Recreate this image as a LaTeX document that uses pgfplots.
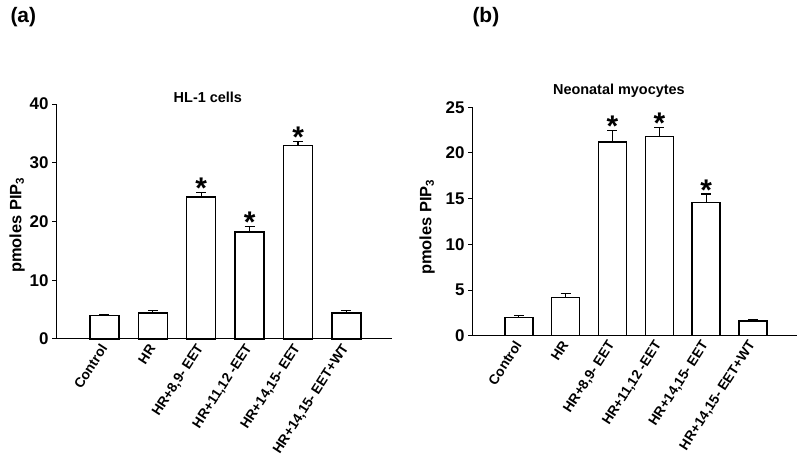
\documentclass[border=0pt]{standalone}
\usepackage{fontspec}
\setmainfont{Liberation Sans}
\usepackage{pgfplots}
\pgfplotsset{compat=1.18}
\begin{document}
\begin{tikzpicture}
\path[use as bounding box] (0bp,0bp) rectangle (800bp,458bp);
\pgfplotsset{
 panel/.style={
  scale only axis,
  axis x line=bottom, axis y line=left,
  axis line style={-, line width=1bp},
  xmin=-1, xmax=5.94, ymin=0,
  xtick={0,1,2,3,4,5},
  xticklabels={Control, HR, {HR+8,9- EET}, {HR+11,12 -EET}, {HR+14,15- EET}, {HR+14,15- EET+WT}},
  x tick style={draw=none},
  tick align=outside,
  y tick style={line width=1bp, black},
  major tick length=4bp,
  xticklabel shift=2bp,
  /pgf/number format/assume math mode=true,
  yticklabel style={font=\fontsize{17}{17}\selectfont\bfseries},
  xticklabel style={font=\fontsize{13.8}{14}\selectfont\bfseries, rotate=57, anchor=east, inner sep=1bp},
  ylabel={pmoles PIP\textsubscript{3}},
  ylabel style={font=\fontsize{16.5}{16.5}\selectfont\bfseries, anchor=center},
  title style={font=\fontsize{14.5}{15}\selectfont\bfseries, anchor=base},
  clip=false,
 },
 bars/.style={ybar, bar shift=0pt, fill=white, draw=black, line width=1.4bp,
   error bars/.cd, y dir=plus, y explicit, error mark=|,
   error mark options={mark size=5bp, line width=1.2bp},
   error bar style={line width=1.2bp}},
 stars/.style={only marks, mark=*, mark size=0pt, mark options={draw=none, fill=none},
   nodes near coords={*},
   nodes near coords style={font=\fontsize{30}{30}\selectfont\bfseries, anchor=base, yshift=-6bp, inner sep=0pt}},
}
\node[anchor=west, font=\fontsize{21}{21}\selectfont\bfseries] at (7bp,441bp) {(a)};
\node[anchor=west, font=\fontsize{21}{21}\selectfont\bfseries] at (469bp,441bp) {(b)};

\begin{axis}[panel, at={(56bp,119bp)}, anchor=south west, width=336bp, height=235bp,
  ymax=40, ytick={0,10,20,30,40}, bar width=29bp,
  title={HL-1 cells}, title style={at={(axis description cs:0.452,1)}, yshift=-4bp},
  ylabel style={at={(axis description cs:-0.116,0.485)}}]
\addplot[bars] coordinates {(0,4.0) +- (0,0.1) (1,4.4) +- (0,0.45) (2,24.2) +- (0,0.7) (3,18.2) +- (0,1.0) (4,32.9) +- (0,0.7) (5,4.4) +- (0,0.45)};
\addplot[stars] coordinates {(2,24.9) (3,19.2) (4,33.6)};
\end{axis}

\begin{axis}[panel, at={(472bp,122.3bp)}, anchor=south west, width=325bp, height=228.4bp,
  ymax=25, ytick={0,5,10,15,20,25}, bar width=28bp,
  title={Neonatal myocytes}, title style={at={(axis description cs:0.452,1)}, yshift=7bp},
  ylabel style={at={(axis description cs:-0.138,0.476)}}]
\addplot[bars] coordinates {(0,2.0) +- (0,0.2) (1,4.2) +- (0,0.4) (2,21.2) +- (0,1.3) (3,21.8) +- (0,1.0) (4,14.55) +- (0,0.95) (5,1.6) +- (0,0.2)};
\addplot[stars] coordinates {(2,22.5) (3,22.8) (4,15.5)};
\end{axis}
\end{tikzpicture}
\end{document}
